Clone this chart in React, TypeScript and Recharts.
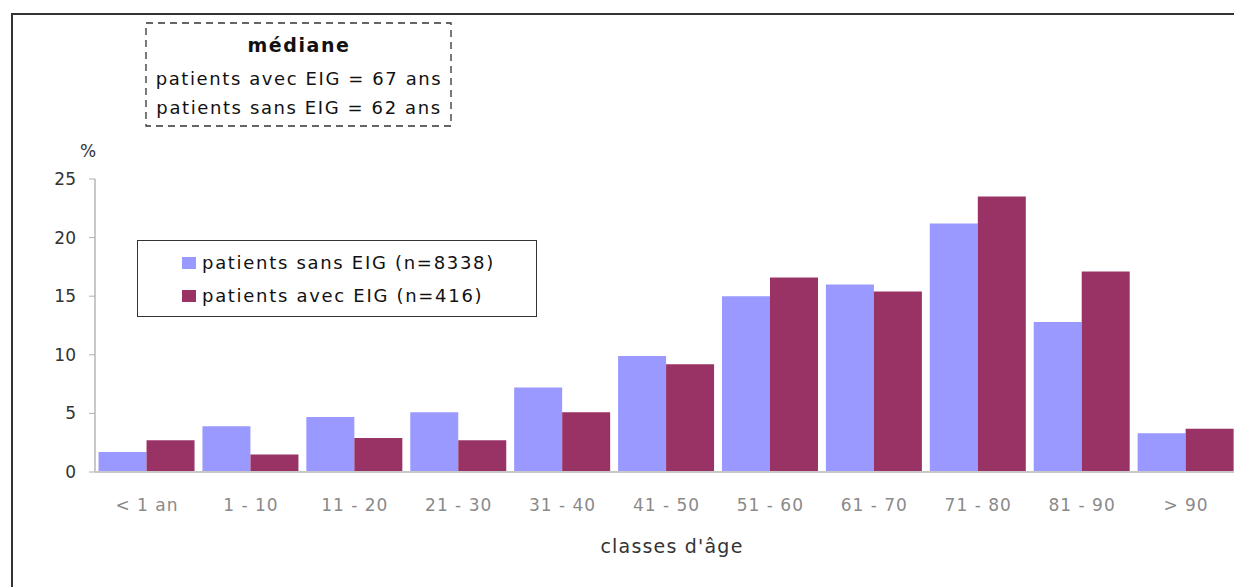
import { Bar, BarChart, Legend, XAxis, YAxis } from "recharts";

const ageClasses = [
  "< 1 an",
  "1 - 10",
  "11 - 20",
  "21 - 30",
  "31 - 40",
  "41 - 50",
  "51 - 60",
  "61 - 70",
  "71 - 80",
  "81 - 90",
  "> 90",
];
const sansEig = [1.7, 3.9, 4.7, 5.1, 7.2, 9.9, 15.0, 16.0, 21.2, 12.8, 3.3];
const avecEig = [2.7, 1.5, 2.9, 2.7, 5.1, 9.2, 16.6, 15.4, 23.5, 17.1, 3.7];
const yTicks = [0, 5, 10, 15, 20, 25];
const seriesOrder = ["sans", "avec"];

const medianTitle = "médiane";
const medianLines = ["patients avec EIG = 67 ans", "patients sans EIG = 62 ans"];

const data = ageClasses.map((cls, i) => ({
  cls,
  sans: sansEig[i],
  avec: avecEig[i],
}));

const FONT = "'DejaVu Sans', Verdana, sans-serif";

function XTick(props: any) {
  const { x, y, payload } = props;
  return (
    <text
      x={x}
      y={y}
      dy="0.71em"
      textAnchor="middle"
      fill="#8a8a8a"
      fontSize={17}
      fontFamily={FONT}
      letterSpacing={1}
    >
      {payload.value}
    </text>
  );
}

function LegendBox(props: any) {
  const items = [...(props.payload || [])].sort(
    (a: any, b: any) => seriesOrder.indexOf(a.dataKey) - seriesOrder.indexOf(b.dataKey)
  );
  return (
    <div
      style={{
        boxSizing: "border-box",
        width: 400,
        height: 77,
        border: "1.5px solid #333",
        background: "#fff",
        paddingLeft: 44,
        paddingTop: 5,
        fontFamily: FONT,
        fontSize: 18,
        letterSpacing: 1.7,
        color: "#111",
        textAlign: "left",
      }}
    >
      {items.map((it: any) => (
        <div key={it.value} style={{ height: 33, display: "flex", alignItems: "center" }}>
          <span
            style={{
              display: "inline-block",
              width: 14,
              height: 12,
              background: it.color,
              marginRight: 6,
            }}
          />
          <span>{it.value}</span>
        </div>
      ))}
    </div>
  );
}

export default function App() {
  return (
    <div
      style={{
        position: "absolute",
        left: 0,
        top: 0,
        width: 1234,
        height: 587,
        overflow: "hidden",
        background: "#fff",
      }}
    >
      {/* outer frame of the original slide */}
      <div
        style={{
          position: "absolute",
          left: 11,
          top: 13,
          width: 1260,
          height: 620,
          border: "2px solid #333",
        }}
      />
      <div style={{ position: "absolute", left: 0, top: 0 }}>
        <BarChart
          width={1238}
          height={587}
          data={data}
          margin={{ top: 179, right: 0, left: 0, bottom: 0 }}
          barGap={0}
          barCategoryGap="3.4%"
        >
          <XAxis
            dataKey="cls"
            height={115}
            axisLine={{ stroke: "#c8c8c8", strokeWidth: 2 }}
            tickLine={false}
            tickMargin={21}
            interval={0}
            tick={<XTick />}
          />
          <YAxis
            width={95}
            domain={[0, 25]}
            ticks={yTicks}
            axisLine={{ stroke: "#c8c8c8", strokeWidth: 2 }}
            tickLine={{ stroke: "#b0b0b0" }}
            tickSize={6}
            tickMargin={13}
            tick={{ fill: "#333", fontSize: 17, fontFamily: FONT }}
          />
          <Legend
            layout="horizontal"
            verticalAlign="middle"
            align="center"
            wrapperStyle={{ left: 137, top: 240, width: 400 }}
            content={<LegendBox />}
          />
          <Bar dataKey="sans" name="patients sans EIG (n=8338)" fill="#9999ff" isAnimationActive={false} />
          <Bar dataKey="avec" name="patients avec EIG (n=416)" fill="#993366" isAnimationActive={false} />
        </BarChart>
      </div>

      <div
        style={{
          position: "absolute",
          left: 80,
          top: 141,
          fontFamily: FONT,
          fontSize: 17,
          color: "#333",
        }}
      >
        %
      </div>

      <div
        style={{
          position: "absolute",
          left: 560,
          width: 224,
          top: 535,
          textAlign: "center",
          fontFamily: FONT,
          fontSize: 19,
          letterSpacing: 1.2,
          color: "#333",
        }}
      >
        classes d'âge
      </div>

      {/* median annotation with long dashes */}
      <svg
        width={308}
        height={106}
        style={{ position: "absolute", left: 145, top: 22 }}
      >
        <rect
          x={1}
          y={1}
          width={305}
          height={103}
          fill="#fff"
          stroke="#333"
          strokeWidth={1.3}
          strokeDasharray="7 5"
        />
      </svg>
      <div
        style={{
          position: "absolute",
          boxSizing: "border-box",
          left: 146,
          top: 23,
          width: 306,
          height: 104,
          fontFamily: FONT,
          fontSize: 18,
          letterSpacing: 1.6,
          color: "#111",
          textAlign: "center",
          lineHeight: "29px",
          paddingTop: 8,
        }}
      >
        <div style={{ fontWeight: "bold", fontSize: 19, marginBottom: 4 }}>{medianTitle}</div>
        {medianLines.map((l) => (
          <div key={l}>{l}</div>
        ))}
      </div>
    </div>
  );
}
